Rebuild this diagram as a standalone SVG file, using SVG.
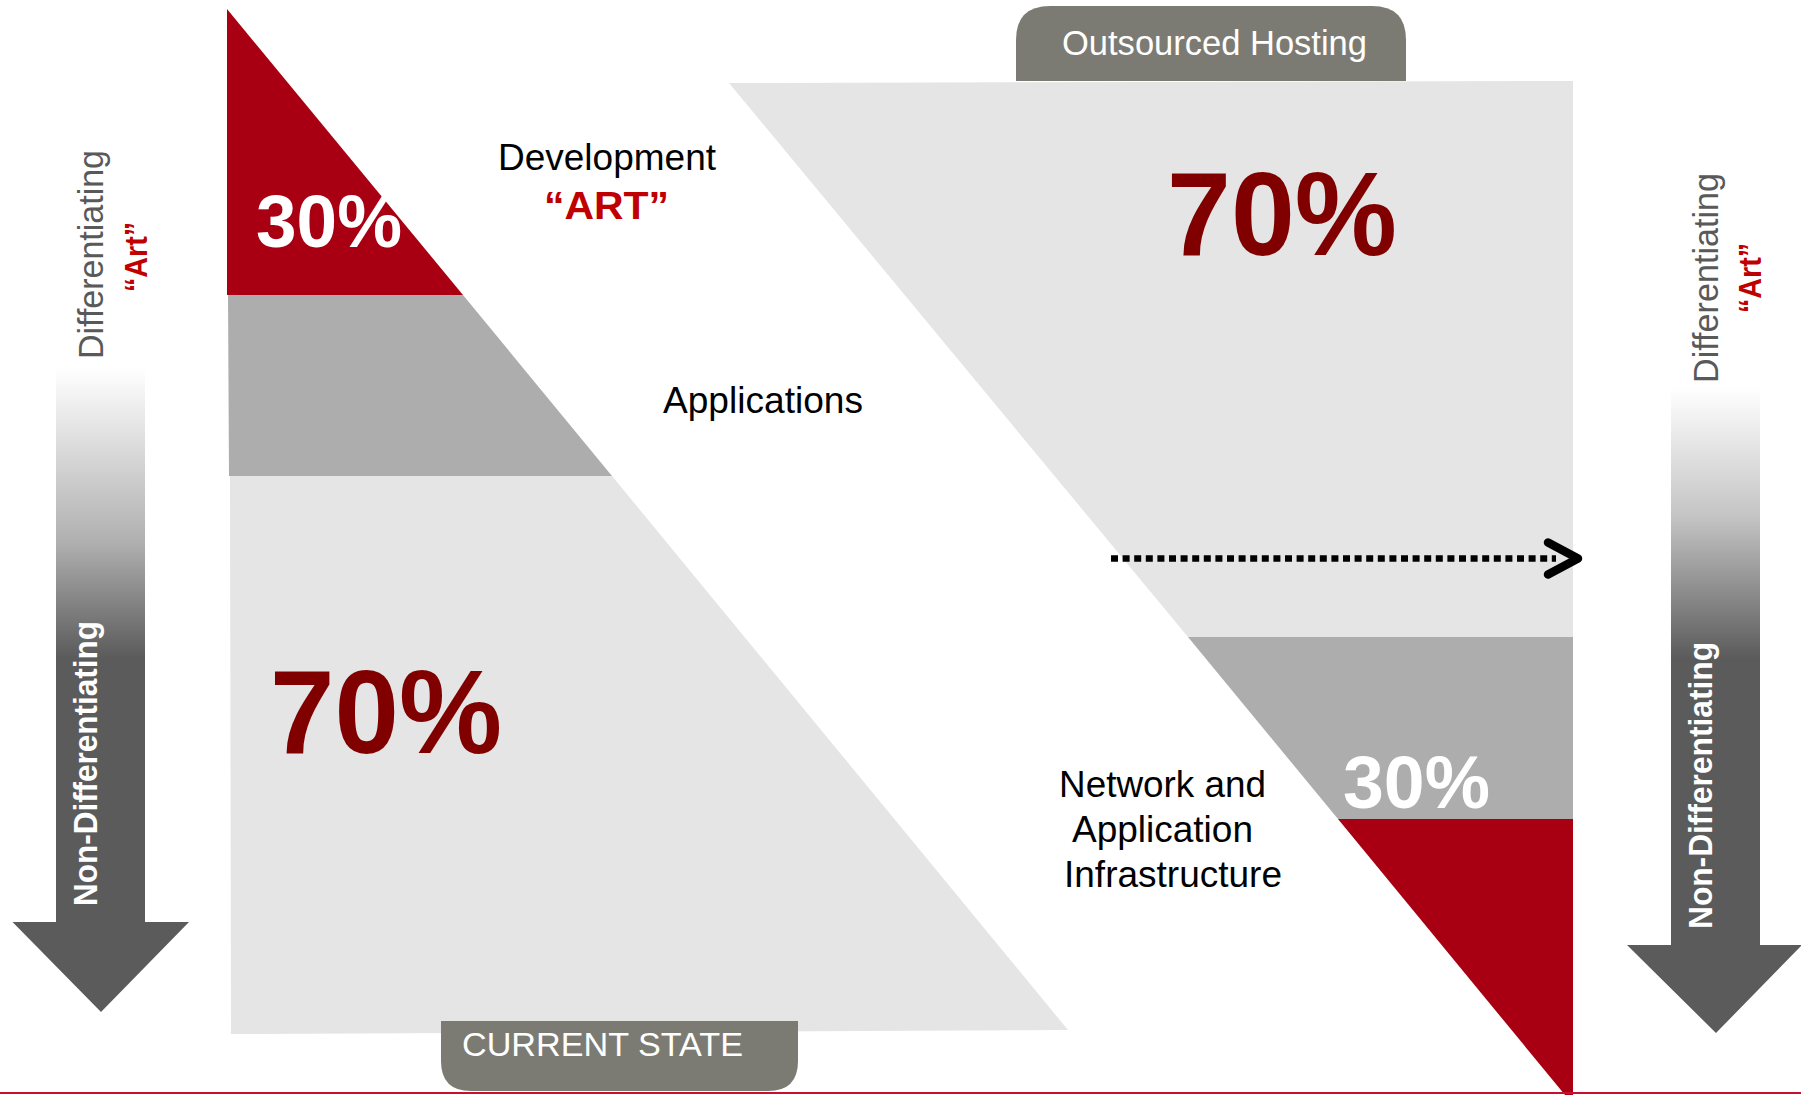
<svg xmlns="http://www.w3.org/2000/svg" width="1801" height="1095" viewBox="0 0 1801 1095">
<style>
.t{font-family:"Liberation Sans",Arial,sans-serif}
.b{font-weight:bold}
.red{fill:#A80012}
.mid{fill:#AEADAE}
.light{fill:#E5E5E5}
.tab{fill:#7C7B73}
.pct{font-family:"Liberation Sans",Arial,sans-serif;font-weight:bold}
.lbl{font-family:"Liberation Sans",Arial,sans-serif;font-size:37px;fill:#000}
.diff{font-family:"Liberation Sans",Arial,sans-serif;font-size:35px;fill:#595959}
.art{font-family:"Liberation Sans",Arial,sans-serif;font-size:31px;font-weight:bold;fill:#C00000}
.nd{font-family:"Liberation Sans",Arial,sans-serif;font-size:34px;font-weight:bold;fill:#FFFFFF}
</style>
<defs>
<linearGradient id="gL" gradientUnits="userSpaceOnUse" x1="0" y1="368" x2="0" y2="1012">
<stop offset="0" stop-color="#FFFFFF"/>
<stop offset="0.27" stop-color="#B0B0B0"/>
<stop offset="0.45" stop-color="#5B5B5B"/>
<stop offset="1" stop-color="#5B5B5B"/>
</linearGradient>
<linearGradient id="gR" gradientUnits="userSpaceOnUse" x1="0" y1="388" x2="0" y2="1032">
<stop offset="0" stop-color="#FFFFFF"/>
<stop offset="0.2" stop-color="#C4C4C4"/>
<stop offset="0.42" stop-color="#5B5B5B"/>
<stop offset="1" stop-color="#5B5B5B"/>
</linearGradient>
<marker id="chev" markerUnits="userSpaceOnUse" viewBox="0 0 44 44" markerWidth="44" markerHeight="44" refX="19" refY="22" orient="auto" overflow="visible">
<path d="M11,6 L41,22 L11,38" fill="none" stroke="#000" stroke-width="8.5" stroke-linecap="round" stroke-linejoin="round"/>
</marker>
</defs>
<rect width="1801" height="1095" fill="#FFFFFF"/>

<g id="current-state-shape">
<polygon class="light" points="230,476 612,476 1068,1030 231,1034"/>
<polygon class="mid" points="228,295 463,295 612,476 229,476"/>
<polygon class="red" points="227,9 463,295 227,295"/>
</g>

<g id="current-state-tab">
<path class="tab" d="M441,1021 H798 V1061 Q798,1091 768,1091 H471 Q441,1091 441,1061 Z"/>
<text class="t" x="462" y="1056" font-size="33.5" fill="#FFFFFF" textLength="281" lengthAdjust="spacingAndGlyphs">CURRENT STATE</text>
</g>

<g id="outsourced-shape">
<polygon class="light" points="729,83 1573,81 1573,637 1188,637"/>
<polygon class="mid" points="1188,637 1573,637 1573,819 1338,819"/>
<polygon class="red" points="1338,819 1573,819 1573,1095 1565,1095"/>
</g>

<g id="outsourced-tab">
<path class="tab" d="M1016,81 V40 Q1016,6 1050,6 H1372 Q1406,6 1406,40 V81 Z"/>
<text class="t" x="1062" y="55" font-size="35" fill="#FFFFFF" textLength="305" lengthAdjust="spacingAndGlyphs">Outsourced Hosting</text>
</g>

<g id="percentages">
<text class="pct" x="256" y="247" font-size="74" fill="#FFFFFF" textLength="146" lengthAdjust="spacingAndGlyphs">30%</text>
<text class="pct" x="270" y="753" font-size="118" fill="#800000" textLength="232" lengthAdjust="spacingAndGlyphs">70%</text>
<text class="pct" x="1167" y="255" font-size="118" fill="#800000" textLength="230" lengthAdjust="spacingAndGlyphs">70%</text>
<text class="pct" x="1343" y="808" font-size="74" fill="#FFFFFF" textLength="147" lengthAdjust="spacingAndGlyphs">30%</text>
</g>

<g id="labels">
<text class="lbl" x="498" y="170" textLength="218" lengthAdjust="spacingAndGlyphs">Development</text>
<text class="t b" x="544" y="219" font-size="39" fill="#C00000" textLength="125" lengthAdjust="spacingAndGlyphs">“ART”</text>
<text class="lbl" x="663" y="413" textLength="200" lengthAdjust="spacingAndGlyphs">Applications</text>
<text class="lbl" x="1059" y="797" textLength="207" lengthAdjust="spacingAndGlyphs">Network and</text>
<text class="lbl" x="1072" y="842" textLength="181" lengthAdjust="spacingAndGlyphs">Application</text>
<text class="lbl" x="1064" y="887" textLength="218" lengthAdjust="spacingAndGlyphs">Infrastructure</text>
</g>

<g id="left-axis">
<path fill="url(#gL)" d="M56,368 H145 V922 H189 L101,1012 L12.5,922 H56 Z"/>
<text class="diff" transform="translate(103,254.5) rotate(-90)" text-anchor="middle" textLength="209" lengthAdjust="spacingAndGlyphs">Differentiating</text>
<text class="art" transform="translate(147,257) rotate(-90)" text-anchor="middle" textLength="70" lengthAdjust="spacingAndGlyphs">“Art”</text>
<text class="nd" transform="translate(97,763.5) rotate(-90)" text-anchor="middle" textLength="285" lengthAdjust="spacingAndGlyphs">Non-Differentiating</text>
</g>

<g id="right-axis">
<path fill="url(#gR)" d="M1671,388 H1760 V945 H1801 V946 L1716,1033 L1627,945 H1671 Z"/>
<text class="diff" transform="translate(1718,278) rotate(-90)" text-anchor="middle" textLength="210" lengthAdjust="spacingAndGlyphs">Differentiating</text>
<text class="art" transform="translate(1761,278) rotate(-90)" text-anchor="middle" textLength="70" lengthAdjust="spacingAndGlyphs">“Art”</text>
<text class="nd" transform="translate(1712,785.5) rotate(-90)" text-anchor="middle" textLength="287" lengthAdjust="spacingAndGlyphs">Non-Differentiating</text>
</g>

<g id="connectors">
<line x1="1111" y1="558.5" x2="1556" y2="558.5" stroke="#000" stroke-width="6.5" stroke-dasharray="7 4.6" marker-end="url(#chev)"/>
</g>

<rect id="bottom-rule" x="0" y="1092" width="1801" height="2" fill="#C8102E"/>
</svg>
